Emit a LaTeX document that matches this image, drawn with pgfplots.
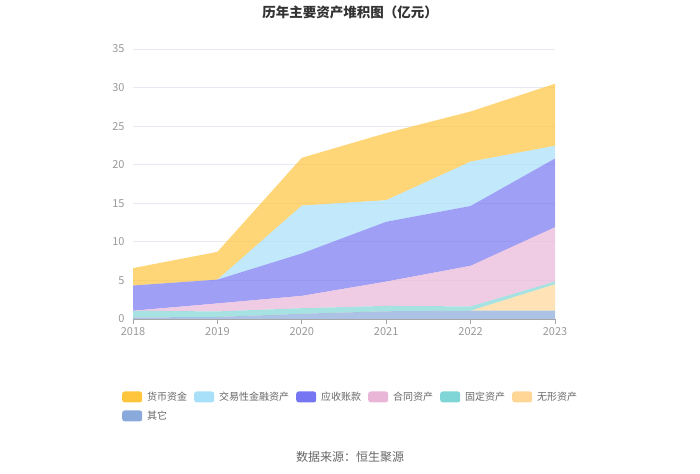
\documentclass[border=0pt]{standalone}
\usepackage{fontspec}
\setmainfont{Noto Sans CJK SC}
\usepackage{pgfplots}
\pgfplotsset{compat=1.18}
\definecolor{cHB}{HTML}{FFC53D}
\definecolor{cJY}{HTML}{A8E0FA}
\definecolor{cYS}{HTML}{7676F2}
\definecolor{cHT}{HTML}{EAB6D8}
\definecolor{cGD}{HTML}{80D6D6}
\definecolor{cWX}{HTML}{FFD696}
\definecolor{cQT}{HTML}{8AAADC}
\definecolor{tick}{HTML}{999999}
\definecolor{grid}{HTML}{E8EAF2}
\definecolor{ttl}{HTML}{333333}
\definecolor{leg}{HTML}{666666}
\begin{document}
\begin{tikzpicture}
\useasboundingbox (0pt,0pt) rectangle (700pt,473pt);
\node[font=\bfseries\fontsize{13.5}{15}\selectfont, text=ttl] at (350pt,461pt) {历年主要资产堆积图（亿元）};
\node[font=\fontsize{12}{14}\selectfont, text=leg] at (350pt,16pt) {数据来源：恒生聚源};
\begin{axis}[
  at={(133pt,154pt)}, anchor=south west,
  width=422pt, height=270pt, scale only axis,
  xmin=2018, xmax=2023, ymin=0, ymax=35,
  xtick={2018,2019,2020,2021,2022,2023},
  ytick={0,5,10,15,20,25,30,35},
  /pgf/number format/assume math mode=true,
  x tick label style={/pgf/number format/1000 sep={}, font=\fontsize{11}{12}\selectfont, text=tick},
  y tick label style={font=\fontsize{11}{12}\selectfont, text=tick},
  axis x line*=bottom, axis y line*=left,
  y axis line style={draw=none},
  y tick style={draw=none},
  x axis line style={draw=black!35, line width=0.8pt},
  x tick style={draw=black!35, line width=0.8pt},
  tick align=outside, major tick length=5pt,
  ymajorgrids, grid style={draw=grid, line width=0.8pt},
  stack plots=y,
  every axis plot/.append style={draw=none, fill opacity=0.7},
  reverse legend,
  legend columns=6,
  legend cell align=left,
  legend image code/.code={\fill[rounded corners=2.5pt, fill opacity=1] (0pt,-5.5pt) rectangle (20pt,5.5pt);},
  legend style={at={(-0.026,-0.262)}, anchor=north west, draw=none, fill=none,
    font=\fontsize{10}{12}\selectfont, text=leg, inner sep=0pt,
    row sep=5pt,
    /tikz/every odd column/.append style={column sep=3pt},
    /tikz/every even column/.append style={column sep=5pt}},
]
\addplot[fill=cQT] coordinates {(2018,0.2) (2019,0.26) (2020,0.68) (2021,1.0) (2022,1.07) (2023,1.07)} \closedcycle;
\addlegendentry{其它}
\addplot[fill=cWX] coordinates {(2018,0) (2019,0) (2020,0) (2021,0) (2022,0) (2023,3.43)} \closedcycle;
\addlegendentry{无形资产}
\addplot[fill=cGD] coordinates {(2018,0.87) (2019,0.72) (2020,0.72) (2021,0.7) (2022,0.56) (2023,0.35)} \closedcycle;
\addlegendentry{固定资产}
\addplot[fill=cHT] coordinates {(2018,0) (2019,1.04) (2020,1.6) (2021,3.15) (2022,5.27) (2023,7.05)} \closedcycle;
\addlegendentry{合同资产}
\addplot[fill=cYS] coordinates {(2018,3.27) (2019,3.08) (2020,5.5) (2021,7.75) (2022,7.75) (2023,8.9)} \closedcycle;
\addlegendentry{应收账款}
\addplot[fill=cJY] coordinates {(2018,0) (2019,0) (2020,6.2) (2021,2.8) (2022,5.75) (2023,1.65)} \closedcycle;
\addlegendentry{交易性金融资产}
\addplot[fill=cHB] coordinates {(2018,2.26) (2019,3.6) (2020,6.2) (2021,8.7) (2022,6.5) (2023,8.05)} \closedcycle;
\addlegendentry{货币资金}
\end{axis}
\end{tikzpicture}
\end{document}
